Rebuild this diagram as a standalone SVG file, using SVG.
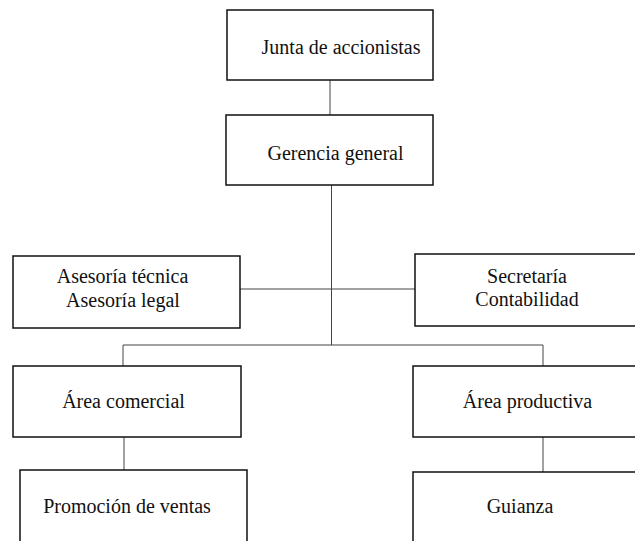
<svg xmlns="http://www.w3.org/2000/svg" width="635" height="541" viewBox="0 0 635 541">
<rect width="635" height="541" fill="#fff"/>
<g id="connectors" stroke="#444" stroke-width="1" fill="none">
<line x1="330" y1="80" x2="330" y2="115"/>
<line x1="331.5" y1="185" x2="331.5" y2="345"/>
<line x1="240" y1="289" x2="415" y2="289"/>
<polyline points="123,366 123,345 543,345 543,366"/>
<line x1="124" y1="437" x2="124" y2="470"/>
<line x1="543" y1="437" x2="543" y2="472"/>
</g>
<g id="junta">
<rect x="227" y="10" width="206" height="70" fill="#fff" stroke="#111" stroke-width="1.5"/>
<text x="341" y="54" font-family="Times New Roman" font-size="20" fill="#111" text-anchor="middle">Junta de accionistas</text>
</g>
<g id="gerencia">
<rect x="226" y="115" width="207" height="70" fill="#fff" stroke="#111" stroke-width="1.5"/>
<text x="335.5" y="160" font-family="Times New Roman" font-size="20" fill="#111" text-anchor="middle">Gerencia general</text>
</g>
<g id="asesoria">
<rect x="13" y="256" width="227" height="72" fill="#fff" stroke="#111" stroke-width="1.5"/>
<text x="122.5" y="283" font-family="Times New Roman" font-size="20" fill="#111" text-anchor="middle">Asesor&#237;a t&#233;cnica</text>
<text x="123" y="307" font-family="Times New Roman" font-size="20" fill="#111" text-anchor="middle">Asesor&#237;a legal</text>
</g>
<g id="secretaria">
<rect x="415" y="254" width="230" height="72" fill="#fff" stroke="#111" stroke-width="1.5"/>
<text x="527" y="283" font-family="Times New Roman" font-size="20" fill="#111" text-anchor="middle">Secretar&#237;a</text>
<text x="527" y="306" font-family="Times New Roman" font-size="20" fill="#111" text-anchor="middle">Contabilidad</text>
</g>
<g id="comercial">
<rect x="13" y="366" width="228" height="71" fill="#fff" stroke="#111" stroke-width="1.5"/>
<text x="123.5" y="408" font-family="Times New Roman" font-size="20" fill="#111" text-anchor="middle">&#193;rea comercial</text>
</g>
<g id="productiva">
<rect x="413" y="366" width="232" height="71" fill="#fff" stroke="#111" stroke-width="1.5"/>
<text x="527.5" y="408" font-family="Times New Roman" font-size="20" fill="#111" text-anchor="middle">&#193;rea productiva</text>
</g>
<g id="promocion">
<rect x="20" y="470" width="227" height="80" fill="#fff" stroke="#111" stroke-width="1.5"/>
<text x="127" y="513" font-family="Times New Roman" font-size="20" fill="#111" text-anchor="middle">Promoci&#243;n de ventas</text>
</g>
<g id="guianza">
<rect x="413" y="472" width="232" height="80" fill="#fff" stroke="#111" stroke-width="1.5"/>
<text x="520" y="513" font-family="Times New Roman" font-size="20" fill="#111" text-anchor="middle">Guianza</text>
</g>
</svg>
